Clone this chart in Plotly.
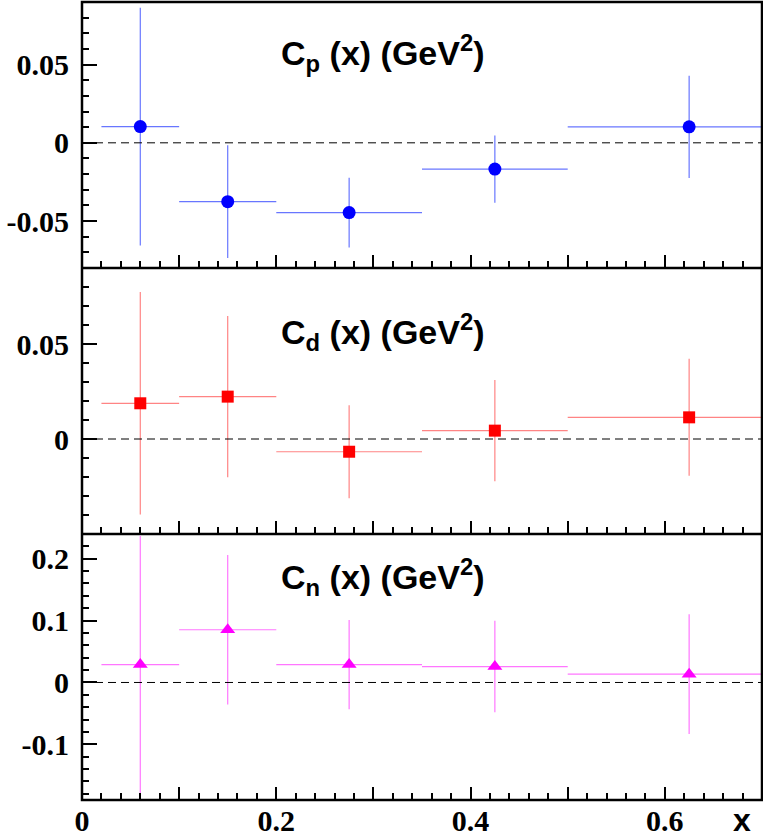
import plotly.graph_objects as go
from plotly.subplots import make_subplots

# ---- data ----
x_centers = [0.06, 0.15, 0.275, 0.425, 0.625]
x_halfwidth = [0.04, 0.05, 0.075, 0.075, 0.125]

cp_vals = [0.0104, -0.0376, -0.0446, -0.0168, 0.0102]
cp_errs = [0.076, 0.036, 0.0223, 0.0215, 0.0327]

cd_vals = [0.0188, 0.0223, -0.0067, 0.0044, 0.0114]
cd_errs = [0.0586, 0.0424, 0.0245, 0.0267, 0.0308]

cn_vals = [0.0289, 0.0852, 0.0289, 0.0257, 0.0134]
cn_errs = [0.208, 0.121, 0.072, 0.074, 0.0967]

x_tickvals = [0, 0.1, 0.2, 0.3, 0.4, 0.5, 0.6, 0.7]
x_ticktext = ["0", " ", "0.2", " ", "0.4", " ", "0.6", " "]

yp_tickvals = [-0.05, 0, 0.05]
yp_ticktext = ["-0.05", "0", "0.05"]
yd_tickvals = [0, 0.05]
yd_ticktext = ["0", "0.05"]
yn_tickvals = [-0.1, 0, 0.1, 0.2]
yn_ticktext = ["-0.1", "0", "0.1", "0.2"]

labels = ["C<sub>p</sub>&nbsp;(x) (GeV<sup>2</sup>)",
          "C<sub>d</sub>&nbsp;(x) (GeV<sup>2</sup>)",
          "C<sub>n</sub>&nbsp;(x) (GeV<sup>2</sup>)"]

W, H = 763, 838
fig = make_subplots(rows=3, cols=1, shared_xaxes=True, vertical_spacing=0)

series = [
    (cp_vals, cp_errs, "circle", "#0000ff", "rgba(40,60,255,0.7)", 13),
    (cd_vals, cd_errs, "square", "#ff0000", "rgba(255,50,50,0.6)", 12),
    (cn_vals, cn_errs, "triangle-up", "#ff00ff", "rgba(255,60,255,0.7)", 13),
]

for i, (vals, errs, sym, col, ecol, ms) in enumerate(series):
    fig.add_trace(go.Scatter(
        x=x_centers, y=vals, mode="markers",
        marker=dict(symbol=sym, color=col, size=ms, line=dict(width=0)),
        error_y=dict(type="data", array=errs, color=ecol, thickness=1.2, width=0),
        error_x=dict(type="data", array=x_halfwidth, color=ecol, thickness=1.2, width=0),
        showlegend=False, cliponaxis=True,
    ), row=i + 1, col=1)
    fig.add_hline(y=0, line=dict(color="black", width=1, dash="8px,5px"), row=i + 1, col=1)

def tfont():
    return dict(family="Liberation Serif", size=30, color="black", weight="bold")

for r in (1, 2, 3):
    fig.update_xaxes(
        range=[0, 0.7], tickmode="array", tickvals=x_tickvals, ticktext=x_ticktext,
        ticks="inside", ticklen=13, tickwidth=2, tickcolor="black",
        minor=dict(ticks="inside", dtick=0.02, ticklen=7, tickwidth=2, tickcolor="black"),
        showline=False, showgrid=False, zeroline=False,
        showticklabels=(r == 3), tickfont=tfont(),
        row=r, col=1)

yspecs = [
    ([-0.08, 0.09], yp_tickvals, yp_ticktext, 0.01),
    ([-0.05, 0.09], yd_tickvals, yd_ticktext, 0.01),
    ([-0.19, 0.24], yn_tickvals, yn_ticktext, 0.02),
]
for r, (rng, tv, tt, mdt) in enumerate(yspecs, start=1):
    fig.update_yaxes(
        range=rng, tickmode="array", tickvals=tv, ticktext=tt,
        ticks="inside", ticklen=15, tickwidth=2, tickcolor="black",
        minor=dict(ticks="inside", dtick=mdt, ticklen=7, tickwidth=2, tickcolor="black"),
        showline=False, showgrid=False, zeroline=False, tickfont=tfont(),
        ticklabelstandoff=12,
        row=r, col=1)

# panel frames (outer box + separators between stacked panels)
fig.add_shape(type="rect", xref="paper", yref="paper", x0=0, x1=1, y0=0, y1=1,
              line=dict(color="black", width=2.5), fillcolor="rgba(0,0,0,0)", layer="above")
for yy in (1 / 3, 2 / 3):
    fig.add_shape(type="line", xref="paper", yref="paper", x0=0, x1=1, y0=yy, y1=yy,
                  line=dict(color="black", width=2.5), layer="above")

label_pos = [("x domain", "y domain", 0.81), ("x2 domain", "y2 domain", 0.76), ("x3 domain", "y3 domain", 0.84)]
for (xr, yr, yy), txt in zip(label_pos, labels):
    fig.add_annotation(
        xref=xr, yref=yr, x=(279 - 82) / 680, y=yy, xanchor="left", yanchor="middle",
        text="<b>" + txt + "</b>", showarrow=False,
        font=dict(family="Liberation Sans", size=34, color="black"))

fig.add_annotation(
    xref="paper", yref="paper", x=(742 - 82) / 680, y=-(820 - 800) / 798,
    xanchor="center", yanchor="middle", text="<b>x</b>", showarrow=False,
    font=dict(family="Liberation Sans", size=32, color="black"))

fig.update_layout(
    width=W, height=H,
    margin=dict(l=82, r=1, t=2, b=38),
    plot_bgcolor="white", paper_bgcolor="white",
)

fig.write_html("out.html", config={"displayModeBar": False},
               post_script="document.body.style.margin='0';")
